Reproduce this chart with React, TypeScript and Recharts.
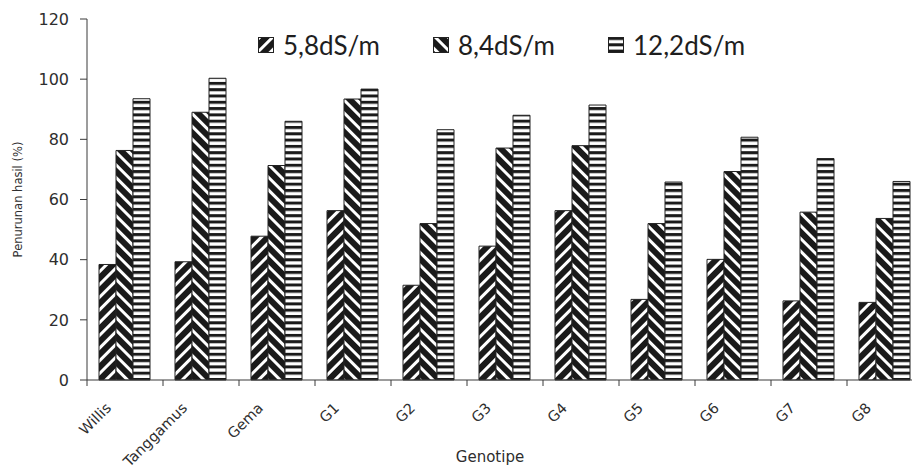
import React from 'react';
import { BarChart, Bar, XAxis, YAxis, Legend, Label } from 'recharts';

// Penurunan hasil (%) per genotipe pada tiga tingkat salinitas
const genotypes = ['Willis', 'Tanggamus', 'Gema', 'G1', 'G2', 'G3', 'G4', 'G5', 'G6', 'G7', 'G8'];
const ec58 = [38.4, 39.3, 47.8, 56.3, 31.5, 44.5, 56.3, 26.8, 40.1, 26.3, 25.8];
const ec84 = [76.3, 89.0, 71.3, 93.4, 52.0, 77.1, 77.9, 52.0, 69.3, 55.8, 53.7];
const ec122 = [93.5, 100.3, 86.0, 96.7, 83.2, 88.0, 91.4, 65.8, 80.7, 73.6, 66.0];
const yTicks = [0, 20, 40, 60, 80, 100, 120];

const series = [
  { key: 'ec58', name: '5,8dS/m', pattern: 'pat58' },
  { key: 'ec84', name: '8,4dS/m', pattern: 'pat84' },
  { key: 'ec122', name: '12,2dS/m', pattern: 'pat122' },
];

const data = genotypes.map((g, i) => ({ name: g, ec58: ec58[i], ec84: ec84[i], ec122: ec122[i] }));

const CHART_W = 930;
const CHART_H = 468;
const MARGIN = { top: 19, right: 7, bottom: 28, left: 27 };
const Y_AXIS_W = 60;
const X_AXIS_H = 60;
const PLOT_W = CHART_W - MARGIN.left - MARGIN.right - Y_AXIS_W;
const BAND = PLOT_W / genotypes.length;

const AXIS_COLOR = '#3a3a3a';
const TEXT_COLOR = '#2e2e2e';
const AXIS_FONT = '"DejaVu Sans", sans-serif';

const GenoTick = (props: any) => {
  const { x, y, payload } = props;
  return (
    <g>
      <line x1={x - BAND / 2} y1={y} x2={x - BAND / 2} y2={y + 6} stroke={AXIS_COLOR} strokeWidth={1} />
      <text
        transform={`translate(${x - 13},${y + 29}) rotate(-45)`}
        textAnchor="end"
        fontSize={14.5}
        fontFamily={AXIS_FONT}
        fill={TEXT_COLOR}
      >
        {payload.value}
      </text>
    </g>
  );
};

const renderLegend = () => (
  <div style={{ display: 'flex', fontFamily: 'Lato, sans-serif', fontSize: 26, color: '#1e1e1e', lineHeight: '30px' }}>
    {series.map((s) => (
      <div key={s.key} style={{ display: 'flex', alignItems: 'center', width: 175 }}>
        <svg width={16} height={16} style={{ display: 'block' }}>
          <rect x={0.5} y={0.5} width={15} height={15} fill={`url(#${s.pattern})`} stroke="#222" />
        </svg>
        <span style={{ marginLeft: 9 }}>{s.name}</span>
      </div>
    ))}
  </div>
);

export default function App() {
  return (
    <div style={{ position: 'absolute', left: 0, top: 0, width: 912, height: 468, overflow: 'hidden', background: '#fff' }}>
      <BarChart
        width={CHART_W}
        height={CHART_H}
        data={data}
        margin={MARGIN}
        barCategoryGap={12}
        barGap={0}
      >
        <defs>
          <pattern id="pat58" patternUnits="userSpaceOnUse" width={9} height={9} patternTransform="rotate(45)">
            <rect width={9} height={9} fill="#1a1a1a" />
            <rect x={0} width={3} height={9} fill="#fff" />
          </pattern>
          <pattern id="pat84" patternUnits="userSpaceOnUse" width={9} height={9} patternTransform="rotate(-45)">
            <rect width={9} height={9} fill="#1a1a1a" />
            <rect x={0} width={3} height={9} fill="#fff" />
          </pattern>
          <pattern id="pat122" patternUnits="userSpaceOnUse" width={6.3} height={6.3}>
            <rect width={6.3} height={6.3} fill="#fff" />
            <rect y={0} width={6.3} height={3} fill="#1a1a1a" />
          </pattern>
        </defs>
        <XAxis
          dataKey="name"
          height={X_AXIS_H}
          interval={0}
          tickLine={false}
          tickSize={0}
          tickMargin={0}
          axisLine={{ stroke: AXIS_COLOR }}
          tick={<GenoTick />}
        >
          <Label
            value="Genotipe"
            position="insideBottom"
            offset={-22}
            dx={-15}
            style={{ fontFamily: AXIS_FONT, fontSize: 15, fill: TEXT_COLOR }}
          />
        </XAxis>
        <YAxis
          width={Y_AXIS_W}
          domain={[0, 120]}
          ticks={yTicks}
          interval={0}
          tickSize={7}
          tickMargin={11}
          axisLine={{ stroke: AXIS_COLOR }}
          tickLine={{ stroke: AXIS_COLOR }}
          tick={{ fontFamily: AXIS_FONT, fontSize: 16, fill: TEXT_COLOR }}
        >
          <Label
            value="Penurunan hasil (%)"
            angle={-90}
            position="insideLeft"
            offset={-9}
            style={{ textAnchor: 'middle', fontFamily: AXIS_FONT, fontSize: 11.5, fill: TEXT_COLOR }}
          />
        </YAxis>
        <Legend
          layout="horizontal"
          verticalAlign="middle"
          align="center"
          content={renderLegend}
          wrapperStyle={{ top: 30, left: 258, width: 560 }}
        />
        {series.map((s) => (
          <Bar
            key={s.key}
            dataKey={s.key}
            name={s.name}
            fill={`url(#${s.pattern})`}
            stroke="#222"
            strokeWidth={1}
            isAnimationActive={false}
          />
        ))}
      </BarChart>
    </div>
  );
}
